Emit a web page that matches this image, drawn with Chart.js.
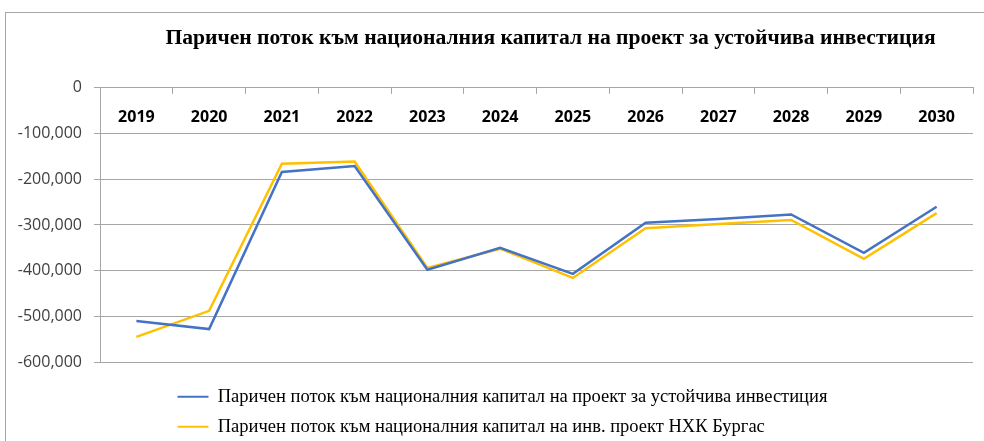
<!DOCTYPE html>
<html>
<head>
<meta charset="utf-8">
<script src="https://cdn.jsdelivr.net/npm/chart.js@4"></script>
<style>
  html, body { margin: 0; padding: 0; background: #fff; overflow: hidden; }
  #wrap { position: relative; width: 984px; height: 441px; }
  #frame { position: absolute; left: 5px; top: 12px; width: 1000px; height: 450px;
           border: 1px solid #a6a6a6; pointer-events: none; }
</style>
</head>
<body>
<div id="wrap">
  <canvas id="cash-chart" width="984" height="441"></canvas>
  <div id="frame"></div>
</div>
<script>
// years on the category axis
const years = ["2019", "2020", "2021", "2022", "2023", "2024", "2025", "2026", "2027", "2028", "2029", "2030"];

// cash flow to national capital, sustainable investment project
const sustainableFlow = [-510000, -528000, -184000, -171000, -398000, -350000, -407000, -295000, -287000, -277000, -361000, -260000];
// cash flow to national capital, NHK Burgas project
const burgasFlow = [-545000, -488000, -166000, -161000, -394000, -352000, -416000, -307000, -298000, -289000, -374000, -274000];

const yTicks = [0, -100000, -200000, -300000, -400000, -500000, -600000];

const gridGrey = "#a6a6a6";

// nudge title and legend to where the original chart has them
const placeBlocks = {
  id: "placeBlocks",
  afterLayout(chart) {
    const t = chart.titleBlock;
    t.left += 14;
    t.right += 14;
    const lg = chart.legend;
    const dx = 166 - lg.left;
    lg.left += dx;
    lg.right += dx;
    lg.top += 14;
    lg.bottom += 14;
  },
};

document.addEventListener("DOMContentLoaded", () => {
  const ctx = document.getElementById("cash-chart").getContext("2d");
  new Chart(ctx, {
    type: "line",
    data: {
      labels: years,
      datasets: [
        {
          label: "Паричен поток към националния капитал на проект за устойчива инвестиция",
          data: sustainableFlow,
          borderColor: "#4472C4",
          backgroundColor: "#4472C4",
          borderWidth: 2.5,
          pointRadius: 0,
          tension: 0,
        },
        {
          label: "Паричен поток към националния капитал на инв. проект НХК Бургас",
          data: burgasFlow,
          borderColor: "#FFC000",
          backgroundColor: "#FFC000",
          borderWidth: 2.5,
          pointRadius: 0,
          tension: 0,
        },
      ],
    },
    options: {
      responsive: false,
      animation: false,
      layout: { padding: { left: 0, right: 11, top: 0, bottom: 9 } },
      plugins: {
        tooltip: { enabled: false },
        title: {
          display: true,
          fullSize: false,
          text: "Паричен поток към националния капитал на проект за устойчива инвестиция",
          color: "#000",
          font: { family: "'Liberation Serif', serif", size: 21.6, weight: "bold", lineHeight: 1.2 },
          padding: { top: 25, bottom: 37 },
        },
        legend: {
          position: "bottom",
          align: "start",
          labels: {
            color: "#000",
            font: { family: "'Liberation Serif', serif", size: 18.5 },
            boxWidth: 31,
            boxHeight: 2,
            padding: 11.5,
            generateLabels(chart) {
              const items = Chart.defaults.plugins.legend.labels.generateLabels(chart);
              items.forEach((it) => { it.lineWidth = 0; });
              return items;
            },
          },
        },
      },
      scales: {
        x: {
          position: "top",
          offset: true,
          grid: {
            offset: true,
            drawOnChartArea: false,
            drawTicks: true,
            tickLength: -6,
            color: gridGrey,
          },
          border: { display: true, color: gridGrey },
          ticks: {
            color: "#000",
            mirror: true,
            padding: 20,
            maxRotation: 0,
            autoSkip: false,
            font: { family: "'Open Sans', sans-serif", size: 16, weight: "bold" },
          },
          afterFit(scale) { scale.height = 0; },
        },
        y: {
          min: -600000,
          max: 0,
          afterBuildTicks(scale) { scale.ticks = yTicks.map((v) => ({ value: v })); },
          grid: { color: gridGrey, tickLength: 6 },
          border: { display: true, color: gridGrey },
          ticks: {
            color: "#404040",
            padding: 12,
            font: { family: "'Open Sans', sans-serif", size: 16 },
            callback: (v) => (v === 0 ? "0" : v.toLocaleString("en-US")),
          },
          afterFit(scale) { scale.width = 100; },
        },
      },
    },
    plugins: [placeBlocks],
  });
});
</script>
</body>
</html>
